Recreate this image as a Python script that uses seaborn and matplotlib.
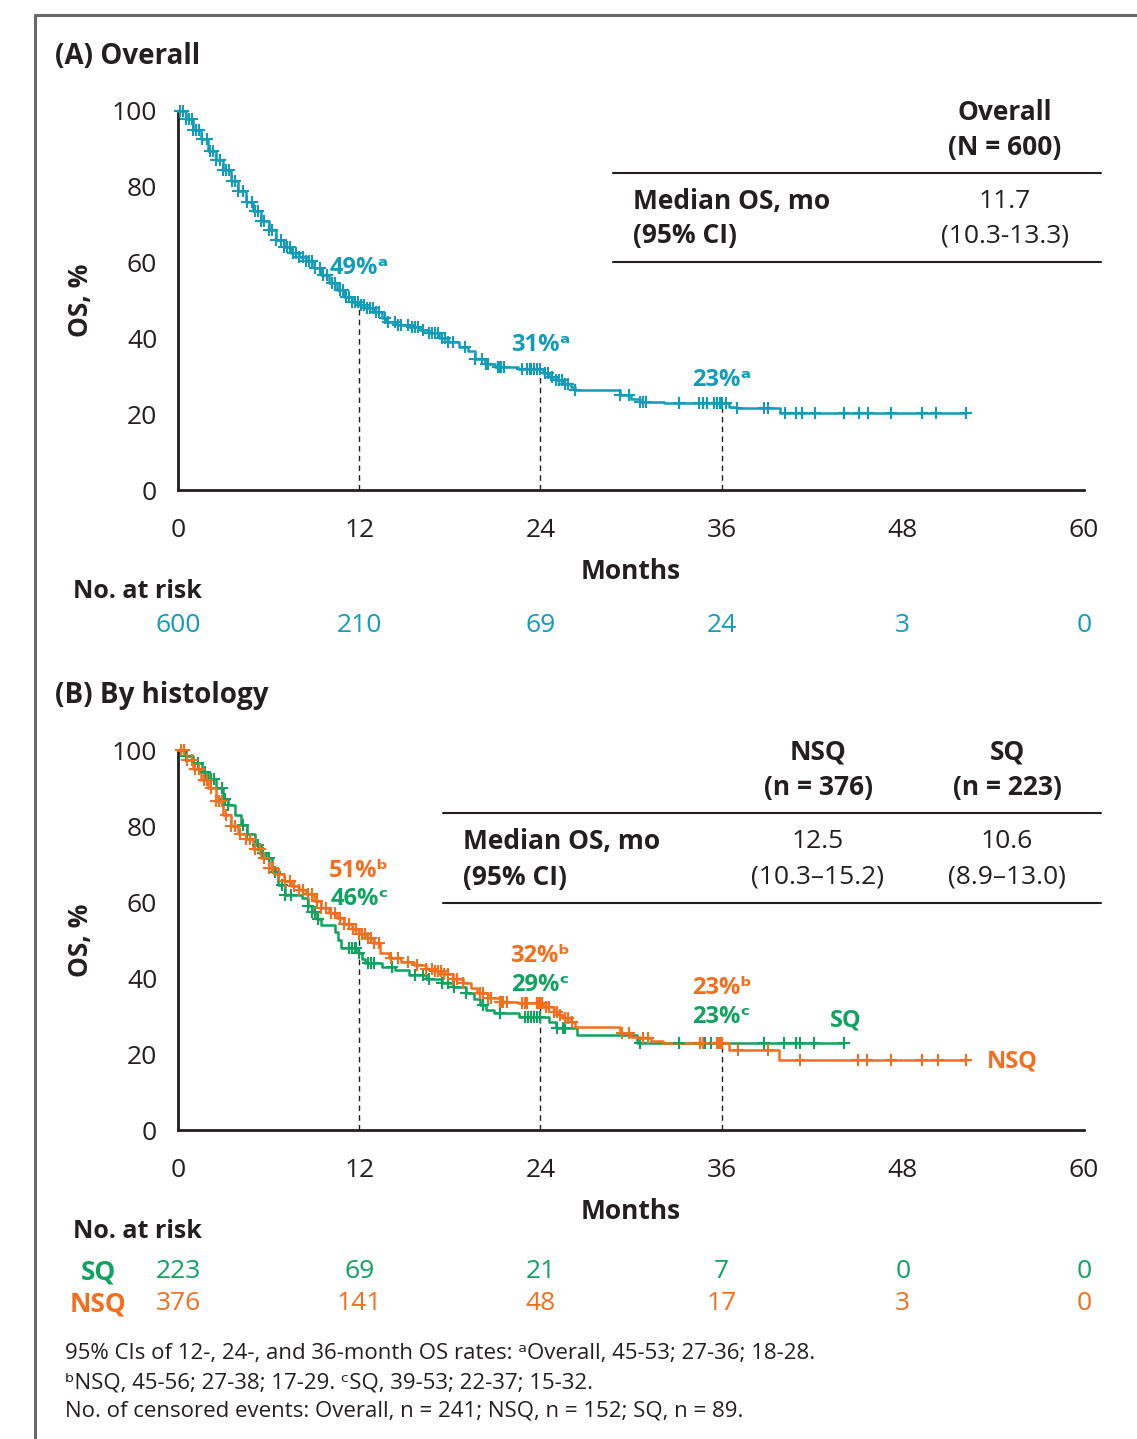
import numpy as np
import pandas as pd
import matplotlib.pyplot as plt
import seaborn as sns
from matplotlib.lines import Line2D

# Kaplan-Meier curves (months, OS %)
overall_t = [0, 0.5, 1.0, 1.5, 2.0, 2.5, 3.0, 3.5, 4.0, 4.5, 5.0, 5.5, 6.0, 6.5, 7.0, 7.5,
             8.0, 8.5, 9.0, 9.5, 10.0, 10.5, 11.0, 11.5, 12.0, 12.5, 13.0, 13.5, 13.8, 14.5,
             15.3, 16.0, 16.6, 17.3, 17.9, 18.6, 19.2, 19.7, 20.3, 21.0, 22.5, 24.2, 24.6,
             25.0, 25.5, 26.0, 26.3, 29.3, 30.0, 30.6, 32.2, 36.5, 37.0, 39.9]
overall_s = [100, 98, 95, 92.5, 89.5, 87, 84.5, 81.5, 79, 76, 73.5, 71, 68.5, 66, 64, 62.5,
             61.5, 60.3, 58.5, 56.7, 54.5, 52.8, 51, 49.7, 48.8, 48, 47, 45.5, 44.2, 43.6,
             43.1, 42.2, 41.3, 40.2, 39.1, 37.8, 36.6, 34.5, 33.2, 32.5, 31.8, 31.0, 29.9,
             29.0, 28.1, 27.2, 26.4, 25.1, 23.9, 23.3, 22.9, 22.0, 21.6, 20.2]
overall_end = 52.2
overall_cens = [0.1, 0.3, 0.5, 0.7, 0.9, 1.0, 1.2, 1.4, 1.6, 1.9, 2.1, 2.3, 2.5, 2.8, 3.0,
                3.2, 3.4, 3.6, 3.8, 4.0, 4.3, 4.6, 4.9, 5.1, 5.3, 5.5, 5.7, 6.0, 6.2, 6.5,
                6.8, 7.0, 7.2, 7.4, 7.6, 7.8, 8.0, 8.3, 8.5, 8.7, 8.9, 9.1, 9.4, 9.6, 9.9,
                10.2, 10.4, 10.7, 10.9, 11.1, 11.3, 11.5, 11.7, 11.9, 12.1, 12.3, 12.5, 12.7,
                12.9, 13.1, 13.3, 13.7, 13.9, 14.4, 14.6, 14.8, 15.2, 15.5, 15.7, 15.9, 16.2,
                16.6, 16.8, 17.0, 17.2, 17.5, 17.7, 17.9, 18.2, 19.0, 19.7, 20.1, 20.4, 20.5,
                21.2, 21.3, 21.4, 21.6, 22.8, 23.1, 23.3, 23.4, 23.6, 23.8, 24.0, 24.3, 24.5,
                24.8, 25.0, 25.2, 25.4, 25.6, 25.8, 26.3, 29.3, 29.9, 30.6, 30.8, 31.0, 33.2,
                34.5, 34.8, 35.0, 35.5, 35.7, 35.9, 36.0, 36.3, 37.0, 38.8, 39.1, 40.2, 40.9,
                41.3, 42.2, 44.1, 45.1, 45.7, 47.2, 49.3, 50.2, 52.2]

nsq_t = [0, 0.5, 1.0, 1.5, 2.0, 2.5, 3.0, 3.5, 4.0, 4.5, 5.0, 5.5, 6.0, 6.5, 7.0, 7.5, 8.0,
         8.5, 9.0, 9.5, 10.0, 10.5, 11.0, 11.5, 12.0, 12.5, 13.0, 13.4, 14.0, 14.8, 15.6,
         16.4, 17.0, 17.6, 18.2, 18.9, 19.4, 19.8, 20.5, 21.3, 22.5, 24.2, 24.9, 25.2, 25.5,
         26.0, 26.3, 29.3, 30.0, 30.6, 31.3, 32.1, 36.5, 39.8]
nsq_s = [100, 97.5, 95, 92, 90, 86.5, 83, 80, 78, 76.5, 74, 71.5, 69, 67.3, 65.6, 64.3, 63.2,
         62, 60.2, 58.5, 57.2, 55.7, 54.3, 53, 51.5, 50.5, 49.1, 46.5, 45.3, 44.3, 43.4,
         42.5, 41.8, 41, 39.8, 38.6, 37.3, 36, 34.8, 33.8, 33.3, 32.3, 31.1, 30.2, 29.4,
         28.4, 27.0, 25.4, 24.6, 24.1, 23.4, 22.8, 21.1, 18.4]
nsq_end = 52.2
nsq_cens = [0.2, 0.4, 0.6, 0.9, 1.1, 1.4, 1.7, 1.9, 2.2, 2.5, 2.7, 2.9, 3.2, 3.5, 3.8, 4.1,
            4.5, 4.8, 5.1, 5.4, 5.7, 6.0, 6.3, 6.7, 7.1, 7.4, 7.7, 8.0, 8.3, 8.6, 8.9, 9.2,
            9.5, 9.8, 10.1, 10.4, 10.7, 11.0, 11.3, 11.6, 11.8, 12.0, 12.2, 12.4, 12.6, 12.8,
            13.0, 13.3, 14.1, 14.6, 15.2, 15.8, 16.4, 16.8, 17.0, 17.2, 17.4, 17.6, 17.9,
            18.2, 18.5, 18.9, 20.0, 20.2, 20.5, 20.7, 21.3, 21.4, 21.5, 21.8, 22.8, 23.0,
            23.1, 23.8, 23.9, 24.0, 24.1, 24.4, 24.6, 24.9, 25.1, 25.3, 25.6, 25.8, 26.1,
            29.4, 29.9, 30.8, 31.1, 34.6, 34.8, 35.7, 35.8, 35.9, 36.0, 37.1, 39.1, 41.2,
            45.0, 45.6, 47.2, 49.3, 50.3, 52.2]

sq_t = [0, 0.5, 1.0, 1.6, 2.0, 2.5, 3.0, 3.3, 3.8, 4.2, 4.6, 5.1, 5.5, 5.8, 6.2, 6.6, 7.1,
        8.2, 8.6, 8.9, 9.2, 9.5, 10.4, 10.6, 10.8, 11.9, 12.2, 12.4, 13.5, 14.4, 15.3, 16.4,
        17.5, 18.2, 19.1, 19.6, 20.0, 20.4, 20.9, 22.6, 24.6, 25.0, 26.4, 30.4]
sq_s = [100, 98.5, 96.5, 94.3, 92.5, 89.9, 87, 85.5, 83, 80.3, 78, 75, 73, 71.5, 68, 64.5,
        61.8, 61, 59, 57.4, 55.5, 53.9, 52.2, 50, 47.8, 46.5, 45, 43.9, 43.0, 42, 40.8, 39.7,
        38.6, 37.7, 36.0, 34.5, 32.9, 31.6, 30.7, 29.8, 28.5, 26.8, 25.0, 23.0]
sq_end = 44.1
sq_cens = [0.5, 1.3, 1.8, 2.2, 2.4, 2.9, 3.1, 3.3, 4.3, 4.6, 5.3, 5.6, 6.0, 6.4, 6.9, 7.1,
           7.5, 8.6, 8.9, 9.1, 9.3, 11.3, 11.5, 11.7, 11.8, 12.0, 12.6, 12.8, 13.0, 14.2,
           15.7, 16.2, 16.6, 17.5, 17.9, 18.3, 19.1, 20.2, 21.3, 23.0, 23.2, 23.4, 23.6,
           23.8, 24.0, 25.1, 25.5, 25.6, 30.6, 33.2, 34.6, 34.9, 35.3, 35.8, 35.9, 36.0,
           38.8, 40.1, 40.9, 41.2, 42.1, 44.1]

risk_months = [0, 12, 24, 36, 48, 60]
risk_overall = [600, 210, 69, 24, 3, 0]
risk_sq = [223, 69, 21, 7, 0, 0]
risk_nsq = [376, 141, 48, 17, 3, 0]

landmarks = [12, 24, 36]
rate_overall = ['49%ᵃ', '31%ᵃ', '23%ᵃ']
rate_nsq = ['51%ᵇ', '32%ᵇ', '23%ᵇ']
rate_sq = ['46%ᶜ', '29%ᶜ', '23%ᶜ']

TEAL = '#129CBA'
ORANGE = '#F56E1E'
GREEN = '#0FA35F'
INK = '#231F20'

sns.set_style('white')
FAM = ['Open Sans', 'DejaVu Sans']
plt.rcParams['font.family'] = FAM
plt.rcParams['text.color'] = INK

W, H = 1137, 1439
fx = lambda px: px / W
fy = lambda py: 1 - py / H


def surv_at(times, vals, t):
    i = np.searchsorted(times, t, side='right') - 1
    return vals[max(i, 0)]


def draw_km(ax, times, vals, end, cens, color):
    df = pd.DataFrame({'t': list(times) + [end], 's': list(vals) + [vals[-1]]})
    sns.lineplot(data=df, x='t', y='s', drawstyle='steps-post', estimator=None, sort=False,
                 color=color, lw=1.8, ax=ax, clip_on=False, zorder=3)
    cy = [surv_at(times, vals, c) for c in cens]
    sns.scatterplot(x=cens, y=cy, marker='+', s=70, color=color, linewidth=1.5,
                    ax=ax, clip_on=False, zorder=4, legend=False)
    ax.set_xlabel('')
    ax.set_ylabel('')


def style_axes(ax):
    ax.set_xlim(0, 60)
    ax.set_ylim(0, 100)
    ax.set_xticks(range(0, 61, 12))
    ax.set_yticks(range(0, 101, 20))
    for side in ['top', 'right']:
        ax.spines[side].set_visible(False)
    for side in ['left', 'bottom']:
        ax.spines[side].set_linewidth(2)
        ax.spines[side].set_color(INK)
    ax.tick_params(direction='out', length=8, width=2, labelsize=19, colors=INK)
    ax.tick_params(axis='x', pad=12)
    ax.tick_params(axis='y', pad=7)
    ax.text(-0.108, 0.5, 'OS, %', rotation=90, fontsize=19, fontweight='bold',
            ha='center', va='center', transform=ax.transAxes)
    ax.text(0.5, -0.215, 'Months', fontsize=19, fontweight='bold', ha='center',
            va='center', transform=ax.transAxes)


fig = plt.figure(figsize=(W / 100, H / 100), dpi=100)

# outer border
fig.add_artist(Line2D([fx(35), 1.02], [fy(15), fy(15)], color='#6b6868', lw=2.2))
fig.add_artist(Line2D([fx(35), fx(35)], [fy(15), -0.02], color='#6b6868', lw=2.2))

# ---- (A) Overall ----
axA = fig.add_axes([fx(178), fy(490), 906 / W, 379 / H])
draw_km(axA, overall_t, overall_s, overall_end, overall_cens, TEAL)
style_axes(axA)
for m, lab, ty in zip(landmarks, rate_overall, [58.6, 38.3, 29.0]):
    s = surv_at(overall_t, overall_s, m)
    axA.plot([m, m], [0, s], ls=(0, (4, 3)), color=INK, lw=1, zorder=2)
    axA.text(m, ty, lab, color=TEAL, fontsize=17, fontweight='bold', ha='center', va='center')

fig.text(fx(55), fy(56), '(A) Overall', fontsize=20, fontweight='bold', va='center')

# table A
fig.text(fx(1005), fy(112), 'Overall', fontsize=19, fontweight='bold', ha='center', va='center')
fig.text(fx(1005), fy(147), '(N = 600)', fontsize=19, fontweight='bold', ha='center', va='center')
fig.add_artist(Line2D([fx(613), fx(1101)], [fy(173), fy(173)], color=INK, lw=1.5))
fig.text(fx(633), fy(201), 'Median OS, mo', fontsize=19, fontweight='bold', va='center')
fig.text(fx(633), fy(236), '(95% CI)', fontsize=19, fontweight='bold', va='center')
fig.text(fx(1005), fy(201), '11.7', fontsize=19, ha='center', va='center')
fig.text(fx(1005), fy(236), '(10.3-13.3)', fontsize=19, ha='center', va='center')
fig.add_artist(Line2D([fx(613), fx(1101)], [fy(262), fy(262)], color=INK, lw=1.5))

# at risk A
fig.text(fx(73), fy(592), 'No. at risk', fontsize=18, fontweight='bold', va='center')
trA = axA.get_xaxis_transform()
for m, n in zip(risk_months, risk_overall):
    axA.text(m, (490 - 626) / 379, str(n), color=TEAL, fontsize=19, ha='center',
             va='center', transform=trA, clip_on=False)

# ---- (B) By histology ----
axB = fig.add_axes([fx(178), fy(1130), 906 / W, 380 / H])
draw_km(axB, sq_t, sq_s, sq_end, sq_cens, GREEN)
draw_km(axB, nsq_t, nsq_s, nsq_end, nsq_cens, ORANGE)
style_axes(axB)
for m, ln, ls_, yn, ys in zip(landmarks, rate_nsq, rate_sq, [68.2, 45.8, 37.4], [60.8, 38.2, 29.7]):
    s = max(surv_at(nsq_t, nsq_s, m), surv_at(sq_t, sq_s, m))
    axB.plot([m, m], [0, s], ls=(0, (4, 3)), color=INK, lw=1, zorder=2)
    axB.text(m, yn, ln, color=ORANGE, fontsize=17, fontweight='bold', ha='center', va='center')
    axB.text(m, ys, ls_, color=GREEN, fontsize=17, fontweight='bold', ha='center', va='center')
axB.text(43.2, 28.7, 'SQ', color=GREEN, fontsize=17, fontweight='bold', va='center')
axB.text(53.6, 17.9, 'NSQ', color=ORANGE, fontsize=17, fontweight='bold', va='center',
         clip_on=False)

fig.text(fx(55), fy(696), '(B) By histology', fontsize=20, fontweight='bold', va='center')

# table B
fig.text(fx(818), fy(752), 'NSQ', fontsize=19, fontweight='bold', ha='center', va='center')
fig.text(fx(818), fy(787), '(n = 376)', fontsize=19, fontweight='bold', ha='center', va='center')
fig.text(fx(1007), fy(752), 'SQ', fontsize=19, fontweight='bold', ha='center', va='center')
fig.text(fx(1007), fy(787), '(n = 223)', fontsize=19, fontweight='bold', ha='center', va='center')
fig.add_artist(Line2D([fx(443), fx(1101)], [fy(813), fy(813)], color=INK, lw=1.5))
fig.text(fx(463), fy(841), 'Median OS, mo', fontsize=19, fontweight='bold', va='center')
fig.text(fx(463), fy(877), '(95% CI)', fontsize=19, fontweight='bold', va='center')
fig.text(fx(818), fy(841), '12.5', fontsize=19, ha='center', va='center')
fig.text(fx(818), fy(877), '(10.3–15.2)', fontsize=19, ha='center', va='center')
fig.text(fx(1007), fy(841), '10.6', fontsize=19, ha='center', va='center')
fig.text(fx(1007), fy(877), '(8.9–13.0)', fontsize=19, ha='center', va='center')
fig.add_artist(Line2D([fx(443), fx(1101)], [fy(903), fy(903)], color=INK, lw=1.5))

# at risk B
fig.text(fx(73), fy(1232), 'No. at risk', fontsize=18, fontweight='bold', va='center')
fig.text(fx(98), fy(1272), 'SQ', color=GREEN, fontsize=19, fontweight='bold', ha='center', va='center')
fig.text(fx(98), fy(1304), 'NSQ', color=ORANGE, fontsize=19, fontweight='bold', ha='center', va='center')
trB = axB.get_xaxis_transform()
for m, a, b in zip(risk_months, risk_sq, risk_nsq):
    axB.text(m, (1130 - 1272) / 380, str(a), color=GREEN, fontsize=19, ha='center',
             va='center', transform=trB, clip_on=False)
    axB.text(m, (1130 - 1304) / 380, str(b), color=ORANGE, fontsize=19, ha='center',
             va='center', transform=trB, clip_on=False)

# footnotes
notes = ['95% CIs of 12-, 24-, and 36-month OS rates: ᵃOverall, 45-53; 27-36; 18-28.',
         'ᵇNSQ, 45-56; 27-38; 17-29. ᶜSQ, 39-53; 22-37; 15-32.',
         'No. of censored events: Overall, n = 241; NSQ, n = 152; SQ, n = 89.']
for i, line in enumerate(notes):
    fig.text(fx(65), fy(1354 + 28.5 * i), line, fontsize=16, va='center')

fig.savefig('out.png', dpi=100, facecolor='white')
